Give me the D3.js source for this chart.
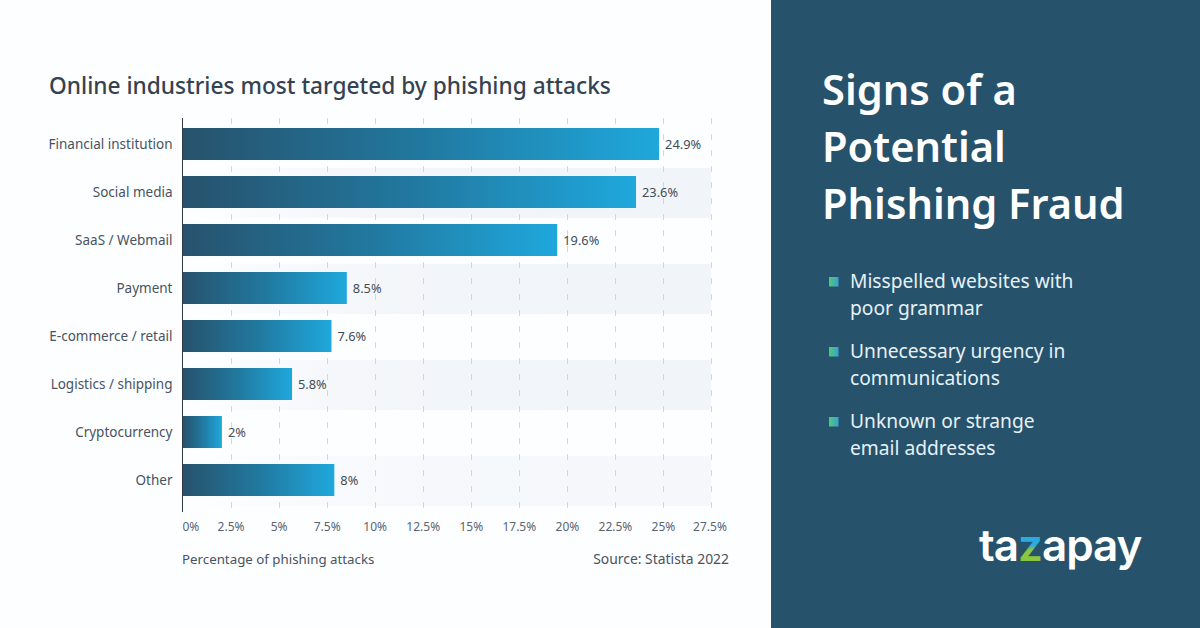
<!DOCTYPE html>
<html>
<head>
<meta charset="utf-8">
<script src="https://cdn.jsdelivr.net/npm/d3@7"></script>
<style>
  html, body { margin: 0; padding: 0; background: #fdfeff; overflow: hidden; }
  text { font-family: "Noto Sans", sans-serif; }
</style>
</head>
<body>
<svg id="chart" width="1200" height="628"></svg>
<script>
const categories = ['Financial institution', 'Social media', 'SaaS / Webmail', 'Payment',
  'E-commerce / retail', 'Logistics / shipping', 'Cryptocurrency', 'Other'];
// bar lengths, printed labels kept separately
const values = [24.8, 23.6, 19.5, 8.55, 7.75, 5.7, 2.05, 7.9];
const valueLabels = ['24.9%', '23.6%', '19.6%', '8.5%', '7.6%', '5.8%', '2%', '8%'];
const tickValues = [0, 2.5, 5, 7.5, 10, 12.5, 15, 17.5, 20, 22.5, 25, 27.5];
const headingLines = ['Signs of a', 'Potential', 'Phishing Fraud'];
const bulletItems = [
  ['Misspelled websites with', 'poor grammar'],
  ['Unnecessary urgency in', 'communications'],
  ['Unknown or strange', 'email addresses'],
];

const svg = d3.select('#chart');
const defs = svg.append('defs');

function hGradient(id, stops) {
  const g = defs.append('linearGradient').attr('id', id);
  stops.forEach(s => g.append('stop').attr('offset', s[0]).attr('stop-color', s[1]));
}
hGradient('barFill', [[0, '#27526c'], [0.5, '#21789f'], [1, '#1fa8dc']]);
hGradient('stripeFill', [[0, '#fdfeff'], [0.25, '#f6f8fb'], [0.5, '#f2f5f9'], [1, '#f1f4f8']]);
hGradient('bulletFill', [[0, '#55c873'], [1, '#36a3d0']]);
const zFill = defs.append('linearGradient').attr('id', 'zFill')
  .attr('x1', 0).attr('x2', 0).attr('y1', 0).attr('y2', 1);
[[0.5, '#29abe2'], [0.6, '#8cc63f']].forEach(s =>
  zFill.append('stop').attr('offset', s[0]).attr('stop-color', s[1]));

const x = d3.scaleLinear().domain([0, 27.5]).range([182.5, 711]);
const y = d3.scaleBand().domain(categories).range([120, 504]).paddingInner(1 / 3).paddingOuter(1 / 6);
const step = y.step();

// title
svg.append('text').attr('x', 49).attr('y', 94)
  .attr('font-size', 22.7).attr('font-weight', 500).attr('fill', '#36424f')
  .text('Online industries most targeted by phishing attacks');

// alternating stripes behind the bars, the last one is fainter
svg.append('g').selectAll('rect')
  .data(categories.filter((d, i) => i % 2 === 1))
  .join('rect')
  .attr('x', x(0))
  .attr('y', d => y(d) - 8)
  .attr('width', x(27.5) - x(0))
  .attr('height', step + 2)
  .attr('fill', 'url(#stripeFill)')
  .attr('opacity', (d, i) => i === 3 ? 0.65 : 1);

// dashed grid
svg.append('g').selectAll('line')
  .data(tickValues.slice(1))
  .join('line')
  .attr('x1', d => Math.round(x(d)) + 0.5).attr('x2', d => Math.round(x(d)) + 0.5)
  .attr('y1', 118).attr('y2', 512)
  .attr('stroke', '#d3d7dc').attr('stroke-dasharray', '6 10');

// bars
svg.append('g').selectAll('rect')
  .data(values)
  .join('rect')
  .attr('x', x(0))
  .attr('y', (d, i) => y(categories[i]))
  .attr('width', d => x(d) - x(0))
  .attr('height', y.bandwidth())
  .attr('fill', 'url(#barFill)');

// value labels
svg.append('g').selectAll('text')
  .data(values)
  .join('text')
  .attr('x', d => x(d) + 6)
  .attr('y', (d, i) => y(categories[i]) + y.bandwidth() / 2 + 4.5)
  .attr('font-size', 12.8).attr('fill', '#414c59')
  .text((d, i) => valueLabels[i]);

// category axis
const yAxis = svg.append('g').attr('transform', 'translate(182.5,1)')
  .call(d3.axisLeft(y).tickSize(0).tickPadding(10));
yAxis.select('.domain').remove();
yAxis.selectAll('text').attr('font-size', 13.5).attr('fill', '#48535f')
  .style('font-family', '"Noto Sans", sans-serif');
svg.append('line').attr('x1', 182.5).attr('x2', 182.5).attr('y1', 118).attr('y2', 512)
  .attr('stroke', '#2f3a46');

// value axis
const xAxis = svg.append('g').attr('transform', 'translate(0,527)')
  .call(d3.axisBottom(x).tickValues(tickValues).tickFormat(d => d + '%').tickSize(0).tickPadding(0));
xAxis.select('.domain').remove();
xAxis.selectAll('text').attr('font-size', 12).attr('fill', '#5a6570').attr('dy', '0.36em')
  .style('font-family', '"Noto Sans", sans-serif');
xAxis.selectAll('.tick').filter(d => d === 0).select('text')
  .attr('text-anchor', 'start').attr('dx', -0.5);
xAxis.selectAll('.tick').filter(d => d === 27.5).select('text').attr('dx', -1.5);

svg.append('text').attr('x', 182).attr('y', 564)
  .attr('font-size', 13.3).attr('fill', '#48535f').text('Percentage of phishing attacks');
svg.append('text').attr('x', 729).attr('y', 564).attr('text-anchor', 'end')
  .attr('font-size', 13.9).attr('fill', '#48535f').text('Source: Statista 2022');

// right panel
svg.append('rect').attr('x', 771).attr('y', 0).attr('width', 429).attr('height', 628).attr('fill', '#26526c');

svg.append('g').selectAll('text')
  .data(headingLines)
  .join('text')
  .attr('x', 822)
  .attr('y', (d, i) => 105 + i * 57)
  .attr('font-size', 41.6).attr('font-weight', 600).attr('fill', '#ffffff')
  .text(d => d);

const bullet = svg.append('g').selectAll('g')
  .data(bulletItems)
  .join('g')
  .attr('transform', (d, i) => `translate(0,${i * 70})`);
bullet.append('rect').attr('x', 829).attr('y', 277).attr('width', 9.5).attr('height', 9.5)
  .attr('fill', 'url(#bulletFill)');
bullet.selectAll('text')
  .data(d => d)
  .join('text')
  .attr('x', 850)
  .attr('y', (d, i) => 288 + i * 27)
  .attr('font-size', 19.2).attr('fill', '#e6f1f6')
  .text(d => d);

// wordmark
const logo = svg.append('text').attr('x', 979).attr('y', 561)
  .attr('font-size', 44).attr('font-weight', 600).attr('letter-spacing', -1).attr('fill', '#ffffff')
  .style('font-family', 'Inter, sans-serif');
logo.append('tspan').text('ta');
logo.append('tspan').attr('fill', 'url(#zFill)').text('z');
logo.append('tspan').text('apay');
</script>
</body>
</html>
